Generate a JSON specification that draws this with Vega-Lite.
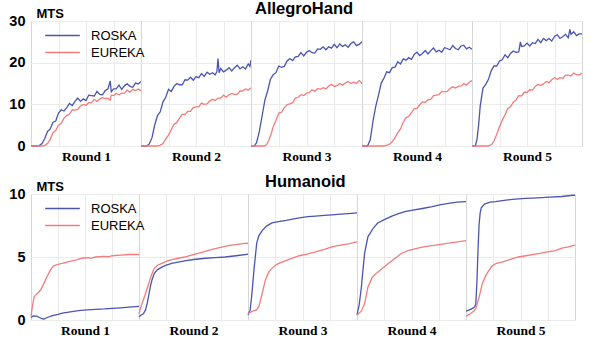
{
"$schema": "https://vega.github.io/schema/vega-lite/v6.json",
"background": "white",
"padding": {"left": 8, "top": 1, "right": 10, "bottom": 2},
"config": {
"font": "Liberation Sans",
"view": {"stroke": "#d6d6d6"},
"axis": {"gridColor": "#ebebeb", "ticks": false, "domain": false, "labelFontSize": 14.5, "labelFontWeight": "bold", "labelColor": "black", "labelPadding": 6},
"axisX": {"titleFont": "Liberation Serif", "titleFontWeight": "bold", "titleFontSize": 13.5, "titleColor": "black", "titlePadding": 3},
"axisY": {"titleAngle": 0, "titleAlign": "left", "titleBaseline": "alphabetic", "titleX": 5, "titleY": -4, "titleFontSize": 13, "titleFontWeight": "bold", "titleColor": "black"},
"legend": {"orient": "none", "legendX": 22, "legendY": 5, "symbolType": "M-2,0L2,0", "symbolSize": 300, "symbolStrokeWidth": 2.2, "labelFontSize": 13, "labelOffset": 19, "rowPadding": -1},
"line": {"strokeWidth": 1.3}
},
"datasets": {
"hand": [
{"r":"Round 1","s":"ROSKA","x":0,"y":0},{"r":"Round 1","s":"ROSKA","x":5,"y":0},{"r":"Round 1","s":"ROSKA","x":7.5,"y":0.1},{"r":"Round 1","s":"ROSKA","x":10,"y":0.6},{"r":"Round 1","s":"ROSKA","x":12.5,"y":1.8},{"r":"Round 1","s":"ROSKA","x":15,"y":3.5},{"r":"Round 1","s":"ROSKA","x":17.5,"y":4.1},{"r":"Round 1","s":"ROSKA","x":20,"y":5.7},{"r":"Round 1","s":"ROSKA","x":22.5,"y":6.0},{"r":"Round 1","s":"ROSKA","x":25,"y":7.9},{"r":"Round 1","s":"ROSKA","x":27.5,"y":8.7},{"r":"Round 1","s":"ROSKA","x":30,"y":8.4},{"r":"Round 1","s":"ROSKA","x":32.5,"y":9.2},{"r":"Round 1","s":"ROSKA","x":35,"y":10.2},{"r":"Round 1","s":"ROSKA","x":37.5,"y":9.7},{"r":"Round 1","s":"ROSKA","x":40,"y":10.7},{"r":"Round 1","s":"ROSKA","x":42.5,"y":11.5},{"r":"Round 1","s":"ROSKA","x":45,"y":10.7},{"r":"Round 1","s":"ROSKA","x":47.5,"y":11.3},{"r":"Round 1","s":"ROSKA","x":50,"y":10.9},{"r":"Round 1","s":"ROSKA","x":52.5,"y":12.2},{"r":"Round 1","s":"ROSKA","x":55,"y":12.1},{"r":"Round 1","s":"ROSKA","x":57.5,"y":12.0},{"r":"Round 1","s":"ROSKA","x":60,"y":13.1},{"r":"Round 1","s":"ROSKA","x":62.5,"y":12.4},{"r":"Round 1","s":"ROSKA","x":65,"y":12.3},{"r":"Round 1","s":"ROSKA","x":67.5,"y":13.3},{"r":"Round 1","s":"ROSKA","x":70,"y":13.7},{"r":"Round 1","s":"ROSKA","x":72,"y":15.6},{"r":"Round 1","s":"ROSKA","x":73,"y":13.0},{"r":"Round 1","s":"ROSKA","x":75,"y":13.7},{"r":"Round 1","s":"ROSKA","x":77.5,"y":13.7},{"r":"Round 1","s":"ROSKA","x":80,"y":14.6},{"r":"Round 1","s":"ROSKA","x":82.5,"y":13.6},{"r":"Round 1","s":"ROSKA","x":85,"y":14.5},{"r":"Round 1","s":"ROSKA","x":87.5,"y":14.9},{"r":"Round 1","s":"ROSKA","x":90,"y":14.3},{"r":"Round 1","s":"ROSKA","x":92.5,"y":14.1},{"r":"Round 1","s":"ROSKA","x":95,"y":15.1},{"r":"Round 1","s":"ROSKA","x":97.5,"y":14.9},{"r":"Round 1","s":"ROSKA","x":100,"y":15.5},
{"r":"Round 1","s":"EUREKA","x":0,"y":0},{"r":"Round 1","s":"EUREKA","x":10,"y":0},{"r":"Round 1","s":"EUREKA","x":12.5,"y":0.1},{"r":"Round 1","s":"EUREKA","x":15,"y":0.6},{"r":"Round 1","s":"EUREKA","x":17.5,"y":1.6},{"r":"Round 1","s":"EUREKA","x":20,"y":3.2},{"r":"Round 1","s":"EUREKA","x":22.5,"y":3.7},{"r":"Round 1","s":"EUREKA","x":25,"y":5.0},{"r":"Round 1","s":"EUREKA","x":27.5,"y":5.4},{"r":"Round 1","s":"EUREKA","x":30,"y":6.7},{"r":"Round 1","s":"EUREKA","x":32.5,"y":7.3},{"r":"Round 1","s":"EUREKA","x":35,"y":7.6},{"r":"Round 1","s":"EUREKA","x":37.5,"y":8.7},{"r":"Round 1","s":"EUREKA","x":40,"y":8.6},{"r":"Round 1","s":"EUREKA","x":42.5,"y":8.8},{"r":"Round 1","s":"EUREKA","x":45,"y":9.6},{"r":"Round 1","s":"EUREKA","x":47.5,"y":10.0},{"r":"Round 1","s":"EUREKA","x":50,"y":9.8},{"r":"Round 1","s":"EUREKA","x":52.5,"y":10.4},{"r":"Round 1","s":"EUREKA","x":55,"y":10.4},{"r":"Round 1","s":"EUREKA","x":57.5,"y":11.2},{"r":"Round 1","s":"EUREKA","x":60,"y":10.7},{"r":"Round 1","s":"EUREKA","x":62.5,"y":11.3},{"r":"Round 1","s":"EUREKA","x":65,"y":11.6},{"r":"Round 1","s":"EUREKA","x":67.5,"y":11.4},{"r":"Round 1","s":"EUREKA","x":70,"y":11.4},{"r":"Round 1","s":"EUREKA","x":72,"y":11.0},{"r":"Round 1","s":"EUREKA","x":73,"y":12.2},{"r":"Round 1","s":"EUREKA","x":75,"y":12.1},{"r":"Round 1","s":"EUREKA","x":77.5,"y":12.6},{"r":"Round 1","s":"EUREKA","x":80,"y":12.3},{"r":"Round 1","s":"EUREKA","x":82.5,"y":12.7},{"r":"Round 1","s":"EUREKA","x":85,"y":12.7},{"r":"Round 1","s":"EUREKA","x":87.5,"y":13.4},{"r":"Round 1","s":"EUREKA","x":90,"y":12.9},{"r":"Round 1","s":"EUREKA","x":92.5,"y":13.6},{"r":"Round 1","s":"EUREKA","x":95,"y":13.3},{"r":"Round 1","s":"EUREKA","x":97.5,"y":13.7},{"r":"Round 1","s":"EUREKA","x":100,"y":13.3},
{"r":"Round 2","s":"ROSKA","x":0,"y":0},{"r":"Round 2","s":"ROSKA","x":5,"y":0},{"r":"Round 2","s":"ROSKA","x":7.5,"y":0.5},{"r":"Round 2","s":"ROSKA","x":10,"y":2.0},{"r":"Round 2","s":"ROSKA","x":12.5,"y":5.1},{"r":"Round 2","s":"ROSKA","x":15,"y":7.3},{"r":"Round 2","s":"ROSKA","x":17.5,"y":8.2},{"r":"Round 2","s":"ROSKA","x":20,"y":10.6},{"r":"Round 2","s":"ROSKA","x":22.5,"y":11.7},{"r":"Round 2","s":"ROSKA","x":25,"y":13.6},{"r":"Round 2","s":"ROSKA","x":27.5,"y":13.1},{"r":"Round 2","s":"ROSKA","x":30,"y":14.3},{"r":"Round 2","s":"ROSKA","x":32.5,"y":15.0},{"r":"Round 2","s":"ROSKA","x":35,"y":14.7},{"r":"Round 2","s":"ROSKA","x":37.5,"y":14.7},{"r":"Round 2","s":"ROSKA","x":40,"y":15.9},{"r":"Round 2","s":"ROSKA","x":42.5,"y":15.8},{"r":"Round 2","s":"ROSKA","x":45,"y":16.5},{"r":"Round 2","s":"ROSKA","x":47.5,"y":15.8},{"r":"Round 2","s":"ROSKA","x":50,"y":16.6},{"r":"Round 2","s":"ROSKA","x":52.5,"y":16.4},{"r":"Round 2","s":"ROSKA","x":55,"y":17.4},{"r":"Round 2","s":"ROSKA","x":57.5,"y":16.7},{"r":"Round 2","s":"ROSKA","x":60,"y":17.7},{"r":"Round 2","s":"ROSKA","x":62.5,"y":17.2},{"r":"Round 2","s":"ROSKA","x":65,"y":17.6},{"r":"Round 2","s":"ROSKA","x":67.5,"y":17.1},{"r":"Round 2","s":"ROSKA","x":69,"y":17.9},{"r":"Round 2","s":"ROSKA","x":70,"y":21.0},{"r":"Round 2","s":"ROSKA","x":71,"y":17.6},{"r":"Round 2","s":"ROSKA","x":72.5,"y":18.6},{"r":"Round 2","s":"ROSKA","x":75,"y":17.8},{"r":"Round 2","s":"ROSKA","x":77.5,"y":18.2},{"r":"Round 2","s":"ROSKA","x":80,"y":18.8},{"r":"Round 2","s":"ROSKA","x":82.5,"y":18.0},{"r":"Round 2","s":"ROSKA","x":85,"y":18.8},{"r":"Round 2","s":"ROSKA","x":87.5,"y":19.4},{"r":"Round 2","s":"ROSKA","x":90,"y":18.5},{"r":"Round 2","s":"ROSKA","x":92.5,"y":19.0},{"r":"Round 2","s":"ROSKA","x":95,"y":18.5},{"r":"Round 2","s":"ROSKA","x":97.5,"y":19.7},{"r":"Round 2","s":"ROSKA","x":99,"y":19.1},{"r":"Round 2","s":"ROSKA","x":100,"y":20.6},
{"r":"Round 2","s":"EUREKA","x":0,"y":0},{"r":"Round 2","s":"EUREKA","x":15,"y":0},{"r":"Round 2","s":"EUREKA","x":17.5,"y":0.2},{"r":"Round 2","s":"EUREKA","x":20,"y":0.6},{"r":"Round 2","s":"EUREKA","x":22.5,"y":1.7},{"r":"Round 2","s":"EUREKA","x":25,"y":2.6},{"r":"Round 2","s":"EUREKA","x":27.5,"y":3.9},{"r":"Round 2","s":"EUREKA","x":30,"y":5.2},{"r":"Round 2","s":"EUREKA","x":32.5,"y":5.6},{"r":"Round 2","s":"EUREKA","x":35,"y":6.7},{"r":"Round 2","s":"EUREKA","x":37.5,"y":7.6},{"r":"Round 2","s":"EUREKA","x":40,"y":7.6},{"r":"Round 2","s":"EUREKA","x":42.5,"y":8.3},{"r":"Round 2","s":"EUREKA","x":45,"y":8.3},{"r":"Round 2","s":"EUREKA","x":47.5,"y":9.2},{"r":"Round 2","s":"EUREKA","x":50,"y":9.4},{"r":"Round 2","s":"EUREKA","x":52.5,"y":9.4},{"r":"Round 2","s":"EUREKA","x":55,"y":10.3},{"r":"Round 2","s":"EUREKA","x":57.5,"y":10.0},{"r":"Round 2","s":"EUREKA","x":60,"y":10.1},{"r":"Round 2","s":"EUREKA","x":62.5,"y":10.8},{"r":"Round 2","s":"EUREKA","x":65,"y":11.2},{"r":"Round 2","s":"EUREKA","x":67.5,"y":10.9},{"r":"Round 2","s":"EUREKA","x":70,"y":11.5},{"r":"Round 2","s":"EUREKA","x":72.5,"y":11.5},{"r":"Round 2","s":"EUREKA","x":75,"y":12.2},{"r":"Round 2","s":"EUREKA","x":77.5,"y":11.7},{"r":"Round 2","s":"EUREKA","x":80,"y":12.3},{"r":"Round 2","s":"EUREKA","x":82.5,"y":12.6},{"r":"Round 2","s":"EUREKA","x":85,"y":12.4},{"r":"Round 2","s":"EUREKA","x":87.5,"y":12.4},{"r":"Round 2","s":"EUREKA","x":90,"y":13.2},{"r":"Round 2","s":"EUREKA","x":92.5,"y":13.2},{"r":"Round 2","s":"EUREKA","x":95,"y":13.7},{"r":"Round 2","s":"EUREKA","x":97.5,"y":13.4},{"r":"Round 2","s":"EUREKA","x":100,"y":14.0},
{"r":"Round 3","s":"ROSKA","x":0,"y":0},{"r":"Round 3","s":"ROSKA","x":3,"y":0},{"r":"Round 3","s":"ROSKA","x":5,"y":0.8},{"r":"Round 3","s":"ROSKA","x":7.5,"y":3.5},{"r":"Round 3","s":"ROSKA","x":10,"y":7.2},{"r":"Round 3","s":"ROSKA","x":12.5,"y":11.0},{"r":"Round 3","s":"ROSKA","x":15,"y":13.2},{"r":"Round 3","s":"ROSKA","x":17.5,"y":16.0},{"r":"Round 3","s":"ROSKA","x":20,"y":17.1},{"r":"Round 3","s":"ROSKA","x":22.5,"y":17.6},{"r":"Round 3","s":"ROSKA","x":25,"y":19.2},{"r":"Round 3","s":"ROSKA","x":27.5,"y":18.9},{"r":"Round 3","s":"ROSKA","x":30,"y":19.1},{"r":"Round 3","s":"ROSKA","x":32.5,"y":20.4},{"r":"Round 3","s":"ROSKA","x":35,"y":21.0},{"r":"Round 3","s":"ROSKA","x":37.5,"y":20.5},{"r":"Round 3","s":"ROSKA","x":40,"y":21.4},{"r":"Round 3","s":"ROSKA","x":42.5,"y":21.5},{"r":"Round 3","s":"ROSKA","x":45,"y":22.4},{"r":"Round 3","s":"ROSKA","x":47.5,"y":21.6},{"r":"Round 3","s":"ROSKA","x":50,"y":22.5},{"r":"Round 3","s":"ROSKA","x":52.5,"y":22.9},{"r":"Round 3","s":"ROSKA","x":55,"y":22.4},{"r":"Round 3","s":"ROSKA","x":57.5,"y":22.3},{"r":"Round 3","s":"ROSKA","x":60,"y":23.3},{"r":"Round 3","s":"ROSKA","x":62.5,"y":23.2},{"r":"Round 3","s":"ROSKA","x":65,"y":23.8},{"r":"Round 3","s":"ROSKA","x":67.5,"y":23.1},{"r":"Round 3","s":"ROSKA","x":70,"y":23.8},{"r":"Round 3","s":"ROSKA","x":72.5,"y":23.5},{"r":"Round 3","s":"ROSKA","x":75,"y":24.4},{"r":"Round 3","s":"ROSKA","x":77.5,"y":23.6},{"r":"Round 3","s":"ROSKA","x":80,"y":24.5},{"r":"Round 3","s":"ROSKA","x":82.5,"y":23.9},{"r":"Round 3","s":"ROSKA","x":85,"y":24.3},{"r":"Round 3","s":"ROSKA","x":87.5,"y":23.7},{"r":"Round 3","s":"ROSKA","x":90,"y":24.6},{"r":"Round 3","s":"ROSKA","x":92.5,"y":25.0},{"r":"Round 3","s":"ROSKA","x":95,"y":24.1},{"r":"Round 3","s":"ROSKA","x":97.5,"y":24.4},{"r":"Round 3","s":"ROSKA","x":100,"y":25.0},
{"r":"Round 3","s":"EUREKA","x":0,"y":0},{"r":"Round 3","s":"EUREKA","x":12,"y":0},{"r":"Round 3","s":"EUREKA","x":14,"y":0.3},{"r":"Round 3","s":"EUREKA","x":16,"y":1.3},{"r":"Round 3","s":"EUREKA","x":18,"y":2.8},{"r":"Round 3","s":"EUREKA","x":20,"y":4.6},{"r":"Round 3","s":"EUREKA","x":22.5,"y":6.1},{"r":"Round 3","s":"EUREKA","x":25,"y":7.9},{"r":"Round 3","s":"EUREKA","x":27.5,"y":8.1},{"r":"Round 3","s":"EUREKA","x":30,"y":9.2},{"r":"Round 3","s":"EUREKA","x":32.5,"y":9.9},{"r":"Round 3","s":"EUREKA","x":35,"y":10.1},{"r":"Round 3","s":"EUREKA","x":37.5,"y":10.4},{"r":"Round 3","s":"EUREKA","x":40,"y":11.5},{"r":"Round 3","s":"EUREKA","x":42.5,"y":11.7},{"r":"Round 3","s":"EUREKA","x":45,"y":12.3},{"r":"Round 3","s":"EUREKA","x":47.5,"y":12.1},{"r":"Round 3","s":"EUREKA","x":50,"y":12.7},{"r":"Round 3","s":"EUREKA","x":52.5,"y":12.8},{"r":"Round 3","s":"EUREKA","x":55,"y":13.5},{"r":"Round 3","s":"EUREKA","x":57.5,"y":13.1},{"r":"Round 3","s":"EUREKA","x":60,"y":13.8},{"r":"Round 3","s":"EUREKA","x":62.5,"y":13.6},{"r":"Round 3","s":"EUREKA","x":65,"y":14.0},{"r":"Round 3","s":"EUREKA","x":67.5,"y":13.7},{"r":"Round 3","s":"EUREKA","x":70,"y":14.4},{"r":"Round 3","s":"EUREKA","x":72.5,"y":14.8},{"r":"Round 3","s":"EUREKA","x":75,"y":14.3},{"r":"Round 3","s":"EUREKA","x":77.5,"y":14.5},{"r":"Round 3","s":"EUREKA","x":80,"y":15.0},{"r":"Round 3","s":"EUREKA","x":82.5,"y":14.6},{"r":"Round 3","s":"EUREKA","x":85,"y":15.1},{"r":"Round 3","s":"EUREKA","x":87.5,"y":15.5},{"r":"Round 3","s":"EUREKA","x":90,"y":15.0},{"r":"Round 3","s":"EUREKA","x":92.5,"y":15.3},{"r":"Round 3","s":"EUREKA","x":95,"y":15.0},{"r":"Round 3","s":"EUREKA","x":97.5,"y":15.7},{"r":"Round 3","s":"EUREKA","x":99,"y":15.4},{"r":"Round 3","s":"EUREKA","x":100,"y":14.9},
{"r":"Round 4","s":"ROSKA","x":0,"y":0},{"r":"Round 4","s":"ROSKA","x":5,"y":0},{"r":"Round 4","s":"ROSKA","x":7.5,"y":1.5},{"r":"Round 4","s":"ROSKA","x":10,"y":6.0},{"r":"Round 4","s":"ROSKA","x":12.5,"y":9.5},{"r":"Round 4","s":"ROSKA","x":15,"y":12.2},{"r":"Round 4","s":"ROSKA","x":17.5,"y":15.1},{"r":"Round 4","s":"ROSKA","x":20,"y":16.3},{"r":"Round 4","s":"ROSKA","x":22.5,"y":17.8},{"r":"Round 4","s":"ROSKA","x":25,"y":17.6},{"r":"Round 4","s":"ROSKA","x":27.5,"y":18.8},{"r":"Round 4","s":"ROSKA","x":30,"y":18.9},{"r":"Round 4","s":"ROSKA","x":32.5,"y":20.2},{"r":"Round 4","s":"ROSKA","x":35,"y":19.7},{"r":"Round 4","s":"ROSKA","x":37.5,"y":20.9},{"r":"Round 4","s":"ROSKA","x":40,"y":20.6},{"r":"Round 4","s":"ROSKA","x":42.5,"y":21.2},{"r":"Round 4","s":"ROSKA","x":45,"y":20.8},{"r":"Round 4","s":"ROSKA","x":47.5,"y":22.0},{"r":"Round 4","s":"ROSKA","x":50,"y":22.5},{"r":"Round 4","s":"ROSKA","x":52.5,"y":21.7},{"r":"Round 4","s":"ROSKA","x":55,"y":22.2},{"r":"Round 4","s":"ROSKA","x":57.5,"y":22.9},{"r":"Round 4","s":"ROSKA","x":60,"y":22.1},{"r":"Round 4","s":"ROSKA","x":62.5,"y":22.9},{"r":"Round 4","s":"ROSKA","x":65,"y":23.5},{"r":"Round 4","s":"ROSKA","x":67.5,"y":22.6},{"r":"Round 4","s":"ROSKA","x":70,"y":23.0},{"r":"Round 4","s":"ROSKA","x":72.5,"y":22.5},{"r":"Round 4","s":"ROSKA","x":75,"y":23.6},{"r":"Round 4","s":"ROSKA","x":77.5,"y":23.4},{"r":"Round 4","s":"ROSKA","x":80,"y":23.1},{"r":"Round 4","s":"ROSKA","x":82.5,"y":24.1},{"r":"Round 4","s":"ROSKA","x":85,"y":23.4},{"r":"Round 4","s":"ROSKA","x":87.5,"y":23.1},{"r":"Round 4","s":"ROSKA","x":90,"y":24.0},{"r":"Round 4","s":"ROSKA","x":92.5,"y":24.2},{"r":"Round 4","s":"ROSKA","x":95,"y":23.3},{"r":"Round 4","s":"ROSKA","x":97.5,"y":23.7},{"r":"Round 4","s":"ROSKA","x":100,"y":23.2},
{"r":"Round 4","s":"EUREKA","x":0,"y":0},{"r":"Round 4","s":"EUREKA","x":20,"y":0},{"r":"Round 4","s":"EUREKA","x":23,"y":0.2},{"r":"Round 4","s":"EUREKA","x":26,"y":0.6},{"r":"Round 4","s":"EUREKA","x":28,"y":1.2},{"r":"Round 4","s":"EUREKA","x":30,"y":2.0},{"r":"Round 4","s":"EUREKA","x":32.5,"y":3.2},{"r":"Round 4","s":"EUREKA","x":35,"y":4.1},{"r":"Round 4","s":"EUREKA","x":37.5,"y":5.7},{"r":"Round 4","s":"EUREKA","x":40,"y":6.8},{"r":"Round 4","s":"EUREKA","x":42.5,"y":7.1},{"r":"Round 4","s":"EUREKA","x":45,"y":8.0},{"r":"Round 4","s":"EUREKA","x":47.5,"y":8.9},{"r":"Round 4","s":"EUREKA","x":50,"y":9.0},{"r":"Round 4","s":"EUREKA","x":52.5,"y":9.9},{"r":"Round 4","s":"EUREKA","x":55,"y":10.6},{"r":"Round 4","s":"EUREKA","x":57.5,"y":10.5},{"r":"Round 4","s":"EUREKA","x":60,"y":11.1},{"r":"Round 4","s":"EUREKA","x":62.5,"y":11.2},{"r":"Round 4","s":"EUREKA","x":65,"y":12.1},{"r":"Round 4","s":"EUREKA","x":67.5,"y":12.2},{"r":"Round 4","s":"EUREKA","x":70,"y":12.3},{"r":"Round 4","s":"EUREKA","x":72.5,"y":13.1},{"r":"Round 4","s":"EUREKA","x":75,"y":13.0},{"r":"Round 4","s":"EUREKA","x":77.5,"y":13.1},{"r":"Round 4","s":"EUREKA","x":80,"y":13.8},{"r":"Round 4","s":"EUREKA","x":82.5,"y":14.2},{"r":"Round 4","s":"EUREKA","x":85,"y":13.9},{"r":"Round 4","s":"EUREKA","x":87.5,"y":14.3},{"r":"Round 4","s":"EUREKA","x":90,"y":14.4},{"r":"Round 4","s":"EUREKA","x":92.5,"y":15.0},{"r":"Round 4","s":"EUREKA","x":95,"y":14.6},{"r":"Round 4","s":"EUREKA","x":97.5,"y":15.3},{"r":"Round 4","s":"EUREKA","x":100,"y":15.7},
{"r":"Round 5","s":"ROSKA","x":0,"y":0},{"r":"Round 5","s":"ROSKA","x":3,"y":0},{"r":"Round 5","s":"ROSKA","x":4.5,"y":1.5},{"r":"Round 5","s":"ROSKA","x":6,"y":5.0},{"r":"Round 5","s":"ROSKA","x":7.5,"y":9.7},{"r":"Round 5","s":"ROSKA","x":10,"y":13.9},{"r":"Round 5","s":"ROSKA","x":12.5,"y":14.8},{"r":"Round 5","s":"ROSKA","x":15,"y":16.0},{"r":"Round 5","s":"ROSKA","x":17.5,"y":18.1},{"r":"Round 5","s":"ROSKA","x":20,"y":19.2},{"r":"Round 5","s":"ROSKA","x":22.5,"y":19.2},{"r":"Round 5","s":"ROSKA","x":25,"y":20.4},{"r":"Round 5","s":"ROSKA","x":27.5,"y":20.7},{"r":"Round 5","s":"ROSKA","x":30,"y":21.9},{"r":"Round 5","s":"ROSKA","x":32.5,"y":21.2},{"r":"Round 5","s":"ROSKA","x":35,"y":22.2},{"r":"Round 5","s":"ROSKA","x":37.5,"y":22.8},{"r":"Round 5","s":"ROSKA","x":40,"y":22.5},{"r":"Round 5","s":"ROSKA","x":42.5,"y":22.6},{"r":"Round 5","s":"ROSKA","x":44,"y":25.0},{"r":"Round 5","s":"ROSKA","x":45,"y":23.9},{"r":"Round 5","s":"ROSKA","x":47.5,"y":24.0},{"r":"Round 5","s":"ROSKA","x":50,"y":24.7},{"r":"Round 5","s":"ROSKA","x":52.5,"y":24.0},{"r":"Round 5","s":"ROSKA","x":55,"y":24.8},{"r":"Round 5","s":"ROSKA","x":57.5,"y":24.6},{"r":"Round 5","s":"ROSKA","x":60,"y":25.6},{"r":"Round 5","s":"ROSKA","x":62.5,"y":24.8},{"r":"Round 5","s":"ROSKA","x":65,"y":25.8},{"r":"Round 5","s":"ROSKA","x":67.5,"y":25.3},{"r":"Round 5","s":"ROSKA","x":70,"y":25.8},{"r":"Round 5","s":"ROSKA","x":72.5,"y":25.2},{"r":"Round 5","s":"ROSKA","x":75,"y":26.3},{"r":"Round 5","s":"ROSKA","x":77.5,"y":26.7},{"r":"Round 5","s":"ROSKA","x":80,"y":25.8},{"r":"Round 5","s":"ROSKA","x":82.5,"y":26.2},{"r":"Round 5","s":"ROSKA","x":85,"y":26.8},{"r":"Round 5","s":"ROSKA","x":87.5,"y":26.0},{"r":"Round 5","s":"ROSKA","x":89,"y":28.0},{"r":"Round 5","s":"ROSKA","x":90,"y":26.8},{"r":"Round 5","s":"ROSKA","x":92.5,"y":27.4},{"r":"Round 5","s":"ROSKA","x":95,"y":26.5},{"r":"Round 5","s":"ROSKA","x":97.5,"y":26.9},{"r":"Round 5","s":"ROSKA","x":100,"y":26.9},
{"r":"Round 5","s":"EUREKA","x":0,"y":0},{"r":"Round 5","s":"EUREKA","x":15,"y":0},{"r":"Round 5","s":"EUREKA","x":18,"y":0.4},{"r":"Round 5","s":"EUREKA","x":20,"y":1.2},{"r":"Round 5","s":"EUREKA","x":22.5,"y":2.8},{"r":"Round 5","s":"EUREKA","x":25,"y":4.6},{"r":"Round 5","s":"EUREKA","x":27.5,"y":6.2},{"r":"Round 5","s":"EUREKA","x":30,"y":7.5},{"r":"Round 5","s":"EUREKA","x":32.5,"y":9.0},{"r":"Round 5","s":"EUREKA","x":35,"y":9.4},{"r":"Round 5","s":"EUREKA","x":37.5,"y":10.5},{"r":"Round 5","s":"EUREKA","x":40,"y":11.0},{"r":"Round 5","s":"EUREKA","x":42.5,"y":12.1},{"r":"Round 5","s":"EUREKA","x":45,"y":12.0},{"r":"Round 5","s":"EUREKA","x":47.5,"y":12.9},{"r":"Round 5","s":"EUREKA","x":50,"y":12.9},{"r":"Round 5","s":"EUREKA","x":52.5,"y":13.5},{"r":"Round 5","s":"EUREKA","x":55,"y":13.4},{"r":"Round 5","s":"EUREKA","x":57.5,"y":14.3},{"r":"Round 5","s":"EUREKA","x":60,"y":14.8},{"r":"Round 5","s":"EUREKA","x":62.5,"y":14.5},{"r":"Round 5","s":"EUREKA","x":65,"y":14.9},{"r":"Round 5","s":"EUREKA","x":67.5,"y":15.5},{"r":"Round 5","s":"EUREKA","x":70,"y":15.2},{"r":"Round 5","s":"EUREKA","x":72.5,"y":15.9},{"r":"Round 5","s":"EUREKA","x":75,"y":16.4},{"r":"Round 5","s":"EUREKA","x":77.5,"y":16.0},{"r":"Round 5","s":"EUREKA","x":80,"y":16.4},{"r":"Round 5","s":"EUREKA","x":82.5,"y":16.2},{"r":"Round 5","s":"EUREKA","x":85,"y":17.0},{"r":"Round 5","s":"EUREKA","x":87.5,"y":17.0},{"r":"Round 5","s":"EUREKA","x":90,"y":16.8},{"r":"Round 5","s":"EUREKA","x":92.5,"y":17.5},{"r":"Round 5","s":"EUREKA","x":95,"y":17.1},{"r":"Round 5","s":"EUREKA","x":97.5,"y":17.0},{"r":"Round 5","s":"EUREKA","x":100,"y":17.5}
],
"hum": [
{"r":"Round 1","s":"ROSKA","x":0,"y":0.2},{"r":"Round 1","s":"ROSKA","x":2,"y":0.32},{"r":"Round 1","s":"ROSKA","x":5,"y":0.3},{"r":"Round 1","s":"ROSKA","x":8,"y":0.2},{"r":"Round 1","s":"ROSKA","x":10,"y":0.1},{"r":"Round 1","s":"ROSKA","x":12,"y":0.08},{"r":"Round 1","s":"ROSKA","x":15,"y":0.2},{"r":"Round 1","s":"ROSKA","x":20,"y":0.35},{"r":"Round 1","s":"ROSKA","x":25,"y":0.45},{"r":"Round 1","s":"ROSKA","x":29,"y":0.55},{"r":"Round 1","s":"ROSKA","x":35,"y":0.63},{"r":"Round 1","s":"ROSKA","x":44,"y":0.74},{"r":"Round 1","s":"ROSKA","x":52,"y":0.8},{"r":"Round 1","s":"ROSKA","x":60,"y":0.85},{"r":"Round 1","s":"ROSKA","x":68,"y":0.88},{"r":"Round 1","s":"ROSKA","x":75,"y":0.92},{"r":"Round 1","s":"ROSKA","x":83,"y":0.97},{"r":"Round 1","s":"ROSKA","x":91,"y":1.02},{"r":"Round 1","s":"ROSKA","x":100,"y":1.08},
{"r":"Round 1","s":"EUREKA","x":0,"y":0.3},{"r":"Round 1","s":"EUREKA","x":1.5,"y":1.2},{"r":"Round 1","s":"EUREKA","x":3,"y":1.85},{"r":"Round 1","s":"EUREKA","x":5,"y":2.05},{"r":"Round 1","s":"EUREKA","x":7,"y":2.2},{"r":"Round 1","s":"EUREKA","x":9,"y":2.4},{"r":"Round 1","s":"EUREKA","x":12,"y":2.9},{"r":"Round 1","s":"EUREKA","x":14.5,"y":3.4},{"r":"Round 1","s":"EUREKA","x":17,"y":3.8},{"r":"Round 1","s":"EUREKA","x":19,"y":4.1},{"r":"Round 1","s":"EUREKA","x":21,"y":4.3},{"r":"Round 1","s":"EUREKA","x":25,"y":4.42},{"r":"Round 1","s":"EUREKA","x":29,"y":4.5},{"r":"Round 1","s":"EUREKA","x":33,"y":4.6},{"r":"Round 1","s":"EUREKA","x":38,"y":4.7},{"r":"Round 1","s":"EUREKA","x":43,"y":4.8},{"r":"Round 1","s":"EUREKA","x":47,"y":4.9},{"r":"Round 1","s":"EUREKA","x":53,"y":4.95},{"r":"Round 1","s":"EUREKA","x":55,"y":4.9},{"r":"Round 1","s":"EUREKA","x":60,"y":5.0},{"r":"Round 1","s":"EUREKA","x":67,"y":5.05},{"r":"Round 1","s":"EUREKA","x":72,"y":5.02},{"r":"Round 1","s":"EUREKA","x":75,"y":5.1},{"r":"Round 1","s":"EUREKA","x":83,"y":5.15},{"r":"Round 1","s":"EUREKA","x":91,"y":5.2},{"r":"Round 1","s":"EUREKA","x":100,"y":5.2},
{"r":"Round 2","s":"ROSKA","x":0,"y":0.25},{"r":"Round 2","s":"ROSKA","x":2,"y":0.4},{"r":"Round 2","s":"ROSKA","x":4,"y":0.5},{"r":"Round 2","s":"ROSKA","x":6,"y":0.8},{"r":"Round 2","s":"ROSKA","x":7.5,"y":1.3},{"r":"Round 2","s":"ROSKA","x":9,"y":2.0},{"r":"Round 2","s":"ROSKA","x":10.5,"y":2.7},{"r":"Round 2","s":"ROSKA","x":12,"y":3.2},{"r":"Round 2","s":"ROSKA","x":14,"y":3.7},{"r":"Round 2","s":"ROSKA","x":17,"y":4.0},{"r":"Round 2","s":"ROSKA","x":21,"y":4.2},{"r":"Round 2","s":"ROSKA","x":25,"y":4.35},{"r":"Round 2","s":"ROSKA","x":30,"y":4.5},{"r":"Round 2","s":"ROSKA","x":36,"y":4.6},{"r":"Round 2","s":"ROSKA","x":42,"y":4.7},{"r":"Round 2","s":"ROSKA","x":50,"y":4.8},{"r":"Round 2","s":"ROSKA","x":61,"y":4.9},{"r":"Round 2","s":"ROSKA","x":70,"y":4.95},{"r":"Round 2","s":"ROSKA","x":79,"y":5.0},{"r":"Round 2","s":"ROSKA","x":89,"y":5.1},{"r":"Round 2","s":"ROSKA","x":99,"y":5.2},{"r":"Round 2","s":"ROSKA","x":100,"y":5.25},
{"r":"Round 2","s":"EUREKA","x":0,"y":0.5},{"r":"Round 2","s":"EUREKA","x":2,"y":1.1},{"r":"Round 2","s":"EUREKA","x":5,"y":1.85},{"r":"Round 2","s":"EUREKA","x":7.5,"y":2.5},{"r":"Round 2","s":"EUREKA","x":10,"y":3.2},{"r":"Round 2","s":"EUREKA","x":12,"y":3.7},{"r":"Round 2","s":"EUREKA","x":14,"y":4.1},{"r":"Round 2","s":"EUREKA","x":17,"y":4.35},{"r":"Round 2","s":"EUREKA","x":21,"y":4.5},{"r":"Round 2","s":"EUREKA","x":25,"y":4.65},{"r":"Round 2","s":"EUREKA","x":30,"y":4.8},{"r":"Round 2","s":"EUREKA","x":36,"y":4.9},{"r":"Round 2","s":"EUREKA","x":42,"y":5.0},{"r":"Round 2","s":"EUREKA","x":48,"y":5.15},{"r":"Round 2","s":"EUREKA","x":55,"y":5.3},{"r":"Round 2","s":"EUREKA","x":61,"y":5.45},{"r":"Round 2","s":"EUREKA","x":67,"y":5.6},{"r":"Round 2","s":"EUREKA","x":74,"y":5.75},{"r":"Round 2","s":"EUREKA","x":82,"y":5.9},{"r":"Round 2","s":"EUREKA","x":90,"y":6.0},{"r":"Round 2","s":"EUREKA","x":99,"y":6.1},{"r":"Round 2","s":"EUREKA","x":100,"y":6.05},
{"r":"Round 3","s":"ROSKA","x":0,"y":0.4},{"r":"Round 3","s":"ROSKA","x":2,"y":0.8},{"r":"Round 3","s":"ROSKA","x":3.5,"y":2.0},{"r":"Round 3","s":"ROSKA","x":5.5,"y":4.0},{"r":"Round 3","s":"ROSKA","x":8,"y":6.1},{"r":"Round 3","s":"ROSKA","x":10,"y":6.7},{"r":"Round 3","s":"ROSKA","x":13,"y":7.1},{"r":"Round 3","s":"ROSKA","x":17,"y":7.45},{"r":"Round 3","s":"ROSKA","x":22,"y":7.7},{"r":"Round 3","s":"ROSKA","x":28,"y":7.8},{"r":"Round 3","s":"ROSKA","x":35,"y":7.9},{"r":"Round 3","s":"ROSKA","x":41,"y":8.0},{"r":"Round 3","s":"ROSKA","x":47,"y":8.1},{"r":"Round 3","s":"ROSKA","x":55,"y":8.2},{"r":"Round 3","s":"ROSKA","x":62,"y":8.25},{"r":"Round 3","s":"ROSKA","x":70,"y":8.3},{"r":"Round 3","s":"ROSKA","x":77,"y":8.35},{"r":"Round 3","s":"ROSKA","x":85,"y":8.4},{"r":"Round 3","s":"ROSKA","x":92,"y":8.45},{"r":"Round 3","s":"ROSKA","x":100,"y":8.5},
{"r":"Round 3","s":"EUREKA","x":0,"y":0.5},{"r":"Round 3","s":"EUREKA","x":4,"y":0.7},{"r":"Round 3","s":"EUREKA","x":8,"y":0.8},{"r":"Round 3","s":"EUREKA","x":10,"y":1.1},{"r":"Round 3","s":"EUREKA","x":13,"y":2.1},{"r":"Round 3","s":"EUREKA","x":16,"y":3.2},{"r":"Round 3","s":"EUREKA","x":19,"y":3.8},{"r":"Round 3","s":"EUREKA","x":22,"y":4.1},{"r":"Round 3","s":"EUREKA","x":26,"y":4.4},{"r":"Round 3","s":"EUREKA","x":31,"y":4.6},{"r":"Round 3","s":"EUREKA","x":37,"y":4.8},{"r":"Round 3","s":"EUREKA","x":42,"y":4.95},{"r":"Round 3","s":"EUREKA","x":47,"y":5.1},{"r":"Round 3","s":"EUREKA","x":55,"y":5.25},{"r":"Round 3","s":"EUREKA","x":62,"y":5.4},{"r":"Round 3","s":"EUREKA","x":70,"y":5.6},{"r":"Round 3","s":"EUREKA","x":77,"y":5.8},{"r":"Round 3","s":"EUREKA","x":85,"y":5.95},{"r":"Round 3","s":"EUREKA","x":92,"y":6.05},{"r":"Round 3","s":"EUREKA","x":100,"y":6.2},
{"r":"Round 4","s":"ROSKA","x":0,"y":0.4},{"r":"Round 4","s":"ROSKA","x":2,"y":1.2},{"r":"Round 4","s":"ROSKA","x":4,"y":2.6},{"r":"Round 4","s":"ROSKA","x":5.5,"y":4.0},{"r":"Round 4","s":"ROSKA","x":7,"y":5.3},{"r":"Round 4","s":"ROSKA","x":10,"y":6.6},{"r":"Round 4","s":"ROSKA","x":15,"y":7.3},{"r":"Round 4","s":"ROSKA","x":19,"y":7.7},{"r":"Round 4","s":"ROSKA","x":26,"y":8.0},{"r":"Round 4","s":"ROSKA","x":32,"y":8.25},{"r":"Round 4","s":"ROSKA","x":38,"y":8.45},{"r":"Round 4","s":"ROSKA","x":44,"y":8.6},{"r":"Round 4","s":"ROSKA","x":50,"y":8.7},{"r":"Round 4","s":"ROSKA","x":60,"y":8.85},{"r":"Round 4","s":"ROSKA","x":69,"y":9.0},{"r":"Round 4","s":"ROSKA","x":77,"y":9.15},{"r":"Round 4","s":"ROSKA","x":84,"y":9.25},{"r":"Round 4","s":"ROSKA","x":92,"y":9.35},{"r":"Round 4","s":"ROSKA","x":100,"y":9.4},
{"r":"Round 4","s":"EUREKA","x":0,"y":0.4},{"r":"Round 4","s":"EUREKA","x":4,"y":0.7},{"r":"Round 4","s":"EUREKA","x":7,"y":1.3},{"r":"Round 4","s":"EUREKA","x":10,"y":2.6},{"r":"Round 4","s":"EUREKA","x":14,"y":3.4},{"r":"Round 4","s":"EUREKA","x":19,"y":3.8},{"r":"Round 4","s":"EUREKA","x":24,"y":4.15},{"r":"Round 4","s":"EUREKA","x":29,"y":4.5},{"r":"Round 4","s":"EUREKA","x":35,"y":4.9},{"r":"Round 4","s":"EUREKA","x":41,"y":5.3},{"r":"Round 4","s":"EUREKA","x":47,"y":5.5},{"r":"Round 4","s":"EUREKA","x":53,"y":5.65},{"r":"Round 4","s":"EUREKA","x":61,"y":5.8},{"r":"Round 4","s":"EUREKA","x":69,"y":5.9},{"r":"Round 4","s":"EUREKA","x":77,"y":6.0},{"r":"Round 4","s":"EUREKA","x":84,"y":6.1},{"r":"Round 4","s":"EUREKA","x":92,"y":6.2},{"r":"Round 4","s":"EUREKA","x":100,"y":6.3},
{"r":"Round 5","s":"ROSKA","x":0,"y":0.7},{"r":"Round 5","s":"ROSKA","x":3,"y":0.8},{"r":"Round 5","s":"ROSKA","x":5.5,"y":0.9},{"r":"Round 5","s":"ROSKA","x":8,"y":1.05},{"r":"Round 5","s":"ROSKA","x":9,"y":1.3},{"r":"Round 5","s":"ROSKA","x":10,"y":3.0},{"r":"Round 5","s":"ROSKA","x":11,"y":5.5},{"r":"Round 5","s":"ROSKA","x":12,"y":7.6},{"r":"Round 5","s":"ROSKA","x":13,"y":8.5},{"r":"Round 5","s":"ROSKA","x":14,"y":8.9},{"r":"Round 5","s":"ROSKA","x":17,"y":9.2},{"r":"Round 5","s":"ROSKA","x":22,"y":9.35},{"r":"Round 5","s":"ROSKA","x":27,"y":9.4},{"r":"Round 5","s":"ROSKA","x":35,"y":9.5},{"r":"Round 5","s":"ROSKA","x":45,"y":9.6},{"r":"Round 5","s":"ROSKA","x":55,"y":9.65},{"r":"Round 5","s":"ROSKA","x":66,"y":9.7},{"r":"Round 5","s":"ROSKA","x":77,"y":9.75},{"r":"Round 5","s":"ROSKA","x":88,"y":9.8},{"r":"Round 5","s":"ROSKA","x":98,"y":9.9},{"r":"Round 5","s":"ROSKA","x":100,"y":9.9},
{"r":"Round 5","s":"EUREKA","x":0,"y":0.3},{"r":"Round 5","s":"EUREKA","x":4,"y":0.5},{"r":"Round 5","s":"EUREKA","x":7,"y":0.7},{"r":"Round 5","s":"EUREKA","x":9,"y":0.9},{"r":"Round 5","s":"EUREKA","x":12,"y":1.8},{"r":"Round 5","s":"EUREKA","x":15,"y":2.9},{"r":"Round 5","s":"EUREKA","x":18,"y":3.5},{"r":"Round 5","s":"EUREKA","x":20,"y":3.8},{"r":"Round 5","s":"EUREKA","x":24,"y":4.3},{"r":"Round 5","s":"EUREKA","x":28,"y":4.5},{"r":"Round 5","s":"EUREKA","x":33,"y":4.6},{"r":"Round 5","s":"EUREKA","x":40,"y":4.8},{"r":"Round 5","s":"EUREKA","x":48,"y":5.0},{"r":"Round 5","s":"EUREKA","x":55,"y":5.1},{"r":"Round 5","s":"EUREKA","x":62,"y":5.2},{"r":"Round 5","s":"EUREKA","x":69,"y":5.3},{"r":"Round 5","s":"EUREKA","x":75,"y":5.4},{"r":"Round 5","s":"EUREKA","x":82,"y":5.5},{"r":"Round 5","s":"EUREKA","x":88,"y":5.7},{"r":"Round 5","s":"EUREKA","x":94,"y":5.8},{"r":"Round 5","s":"EUREKA","x":98,"y":5.9},{"r":"Round 5","s":"EUREKA","x":100,"y":5.95}
]
},
"vconcat": [
{
"title": {"text": "AllegroHand", "fontSize": 16.5, "fontWeight": "bold", "anchor": "start", "frame": "group", "dx": 224, "offset": -11, "color": "black"},
"data": {"name": "hand"},
"spacing": 0,
"bounds": "flush",
"hconcat": [
{"transform": [{"filter": "datum.r === 'Round 1'"}], "width": 110, "height": 125, "mark": "line",
"encoding": {"x": {"field": "x", "type": "quantitative", "scale": {"domain": [0, 100], "nice": false}, "axis": {"values": [25, 50, 75], "labels": false, "title": "Round 1"}},
"y": {"field": "y", "type": "quantitative", "scale": {"domain": [0, 30], "nice": false}, "axis": {"values": [0, 10, 20, 30], "title": "MTS"}},
"color": {"field": "s", "type": "nominal", "scale": {"domain": ["ROSKA", "EUREKA"], "range": ["#4a55b0", "#f27c7c"]}, "legend": {"title": null, "encode": {"labels": {"update": {"fill": [{"test": "datum.value === 'ROSKA'", "value": "#4a55b0"}, {"value": "#f27c7c"}]}}}}}}},
{"transform": [{"filter": "datum.r === 'Round 2'"}], "width": 110, "height": 125, "mark": "line",
"encoding": {"x": {"field": "x", "type": "quantitative", "scale": {"domain": [0, 100], "nice": false}, "axis": {"values": [25, 50, 75], "labels": false, "title": "Round 2"}},
"y": {"field": "y", "type": "quantitative", "scale": {"domain": [0, 30], "nice": false}, "axis": {"values": [0, 10, 20, 30], "labels": false, "title": null, "labelPadding": 0, "minExtent": 0, "maxExtent": 0}},
"color": {"field": "s", "type": "nominal", "scale": {"domain": ["ROSKA", "EUREKA"], "range": ["#4a55b0", "#f27c7c"]}, "legend": {"title": null, "encode": {"labels": {"update": {"fill": [{"test": "datum.value === 'ROSKA'", "value": "#4a55b0"}, {"value": "#f27c7c"}]}}}}}}},
{"transform": [{"filter": "datum.r === 'Round 3'"}], "width": 111, "height": 125, "mark": "line",
"encoding": {"x": {"field": "x", "type": "quantitative", "scale": {"domain": [0, 100], "nice": false}, "axis": {"values": [25, 50, 75], "labels": false, "title": "Round 3"}},
"y": {"field": "y", "type": "quantitative", "scale": {"domain": [0, 30], "nice": false}, "axis": {"values": [0, 10, 20, 30], "labels": false, "title": null, "labelPadding": 0, "minExtent": 0, "maxExtent": 0}},
"color": {"field": "s", "type": "nominal", "scale": {"domain": ["ROSKA", "EUREKA"], "range": ["#4a55b0", "#f27c7c"]}, "legend": {"title": null, "encode": {"labels": {"update": {"fill": [{"test": "datum.value === 'ROSKA'", "value": "#4a55b0"}, {"value": "#f27c7c"}]}}}}}}},
{"transform": [{"filter": "datum.r === 'Round 4'"}], "width": 110, "height": 125, "mark": "line",
"encoding": {"x": {"field": "x", "type": "quantitative", "scale": {"domain": [0, 100], "nice": false}, "axis": {"values": [25, 50, 75], "labels": false, "title": "Round 4"}},
"y": {"field": "y", "type": "quantitative", "scale": {"domain": [0, 30], "nice": false}, "axis": {"values": [0, 10, 20, 30], "labels": false, "title": null, "labelPadding": 0, "minExtent": 0, "maxExtent": 0}},
"color": {"field": "s", "type": "nominal", "scale": {"domain": ["ROSKA", "EUREKA"], "range": ["#4a55b0", "#f27c7c"]}, "legend": {"title": null, "encode": {"labels": {"update": {"fill": [{"test": "datum.value === 'ROSKA'", "value": "#4a55b0"}, {"value": "#f27c7c"}]}}}}}}},
{"transform": [{"filter": "datum.r === 'Round 5'"}], "width": 110, "height": 125, "mark": "line",
"encoding": {"x": {"field": "x", "type": "quantitative", "scale": {"domain": [0, 100], "nice": false}, "axis": {"values": [25, 50, 75], "labels": false, "title": "Round 5"}},
"y": {"field": "y", "type": "quantitative", "scale": {"domain": [0, 30], "nice": false}, "axis": {"values": [0, 10, 20, 30], "labels": false, "title": null, "labelPadding": 0, "minExtent": 0, "maxExtent": 0}},
"color": {"field": "s", "type": "nominal", "scale": {"domain": ["ROSKA", "EUREKA"], "range": ["#4a55b0", "#f27c7c"]}, "legend": {"title": null, "encode": {"labels": {"update": {"fill": [{"test": "datum.value === 'ROSKA'", "value": "#4a55b0"}, {"value": "#f27c7c"}]}}}}}}}
]
},
{
"title": {"text": "Humanoid", "fontSize": 16.5, "fontWeight": "bold", "anchor": "start", "frame": "group", "dx": 234, "offset": -11, "color": "black"},
"data": {"name": "hum"},
"spacing": 0,
"bounds": "flush",
"hconcat": [
{"transform": [{"filter": "datum.r === 'Round 1'"}], "width": 108, "height": 126, "mark": "line",
"encoding": {"x": {"field": "x", "type": "quantitative", "scale": {"domain": [0, 100], "nice": false}, "axis": {"values": [25, 50, 75], "labels": false, "title": "Round 1"}},
"y": {"field": "y", "type": "quantitative", "scale": {"domain": [0, 10], "nice": false}, "axis": {"values": [0, 5, 10], "title": "MTS"}},
"color": {"field": "s", "type": "nominal", "scale": {"domain": ["ROSKA", "EUREKA"], "range": ["#4a55b0", "#f27c7c"]}, "legend": {"title": null, "encode": {"labels": {"update": {"fill": [{"test": "datum.value === 'ROSKA'", "value": "#4a55b0"}, {"value": "#f27c7c"}]}}}}}}},
{"transform": [{"filter": "datum.r === 'Round 2'"}], "width": 109, "height": 126, "mark": "line",
"encoding": {"x": {"field": "x", "type": "quantitative", "scale": {"domain": [0, 100], "nice": false}, "axis": {"values": [25, 50, 75], "labels": false, "title": "Round 2"}},
"y": {"field": "y", "type": "quantitative", "scale": {"domain": [0, 10], "nice": false}, "axis": {"values": [0, 5, 10], "labels": false, "title": null, "labelPadding": 0, "minExtent": 0, "maxExtent": 0}},
"color": {"field": "s", "type": "nominal", "scale": {"domain": ["ROSKA", "EUREKA"], "range": ["#4a55b0", "#f27c7c"]}, "legend": {"title": null, "encode": {"labels": {"update": {"fill": [{"test": "datum.value === 'ROSKA'", "value": "#4a55b0"}, {"value": "#f27c7c"}]}}}}}}},
{"transform": [{"filter": "datum.r === 'Round 3'"}], "width": 109, "height": 126, "mark": "line",
"encoding": {"x": {"field": "x", "type": "quantitative", "scale": {"domain": [0, 100], "nice": false}, "axis": {"values": [25, 50, 75], "labels": false, "title": "Round 3"}},
"y": {"field": "y", "type": "quantitative", "scale": {"domain": [0, 10], "nice": false}, "axis": {"values": [0, 5, 10], "labels": false, "title": null, "labelPadding": 0, "minExtent": 0, "maxExtent": 0}},
"color": {"field": "s", "type": "nominal", "scale": {"domain": ["ROSKA", "EUREKA"], "range": ["#4a55b0", "#f27c7c"]}, "legend": {"title": null, "encode": {"labels": {"update": {"fill": [{"test": "datum.value === 'ROSKA'", "value": "#4a55b0"}, {"value": "#f27c7c"}]}}}}}}},
{"transform": [{"filter": "datum.r === 'Round 4'"}], "width": 109, "height": 126, "mark": "line",
"encoding": {"x": {"field": "x", "type": "quantitative", "scale": {"domain": [0, 100], "nice": false}, "axis": {"values": [25, 50, 75], "labels": false, "title": "Round 4"}},
"y": {"field": "y", "type": "quantitative", "scale": {"domain": [0, 10], "nice": false}, "axis": {"values": [0, 5, 10], "labels": false, "title": null, "labelPadding": 0, "minExtent": 0, "maxExtent": 0}},
"color": {"field": "s", "type": "nominal", "scale": {"domain": ["ROSKA", "EUREKA"], "range": ["#4a55b0", "#f27c7c"]}, "legend": {"title": null, "encode": {"labels": {"update": {"fill": [{"test": "datum.value === 'ROSKA'", "value": "#4a55b0"}, {"value": "#f27c7c"}]}}}}}}},
{"transform": [{"filter": "datum.r === 'Round 5'"}], "width": 109, "height": 126, "mark": "line",
"encoding": {"x": {"field": "x", "type": "quantitative", "scale": {"domain": [0, 100], "nice": false}, "axis": {"values": [25, 50, 75], "labels": false, "title": "Round 5"}},
"y": {"field": "y", "type": "quantitative", "scale": {"domain": [0, 10], "nice": false}, "axis": {"values": [0, 5, 10], "labels": false, "title": null, "labelPadding": 0, "minExtent": 0, "maxExtent": 0}},
"color": {"field": "s", "type": "nominal", "scale": {"domain": ["ROSKA", "EUREKA"], "range": ["#4a55b0", "#f27c7c"]}, "legend": {"title": null, "encode": {"labels": {"update": {"fill": [{"test": "datum.value === 'ROSKA'", "value": "#4a55b0"}, {"value": "#f27c7c"}]}}}}}}}
]
}
],
"spacing": 11,
"resolve": {"legend": {"color": "independent"}}
}
